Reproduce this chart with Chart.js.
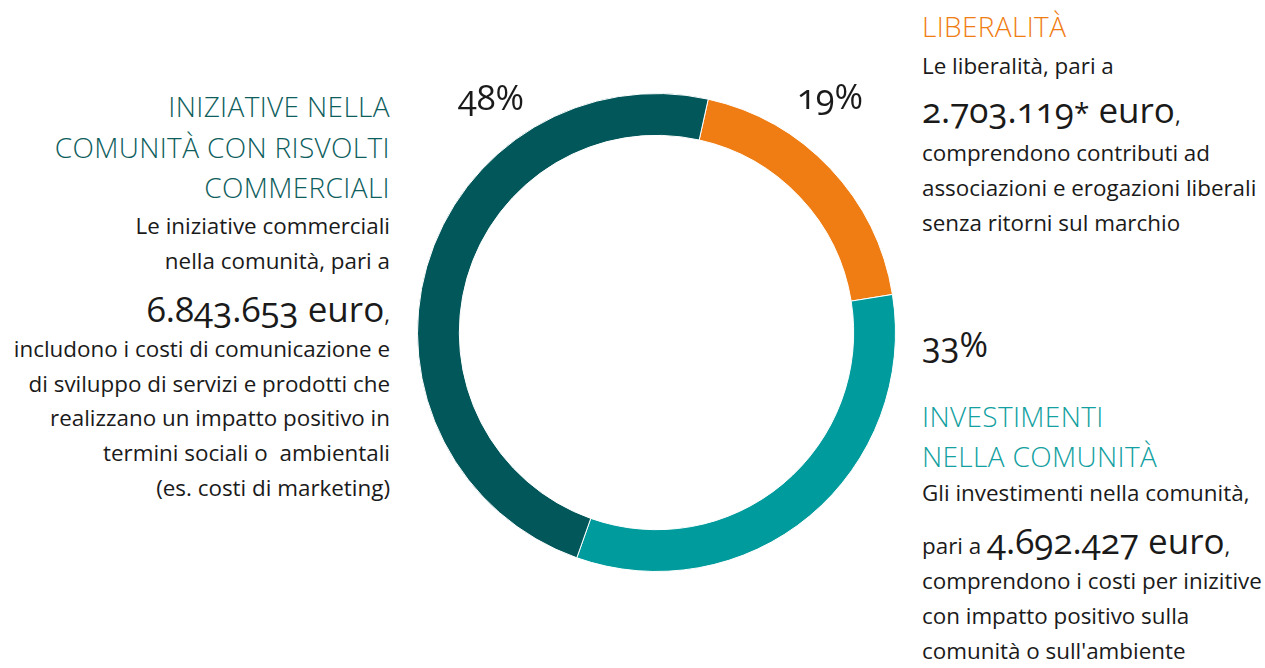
<!DOCTYPE html>
<html lang="it">
<head>
<meta charset="utf-8">
<title>Contributi alla comunità</title>
<script src="https://cdn.jsdelivr.net/npm/chart.js@4"></script>
<style>
  html, body { margin: 0; padding: 0; background: #fff; }
  #page {
    position: relative; width: 1265px; height: 668px; overflow: hidden;
    font-family: "Open Sans", "Noto Sans", sans-serif; color: #1a1a1a;
    font-feature-settings: "onum" 1;
  }
  #ring { position: absolute; left: 417px; top: 93px; width: 479px; height: 479px; }
  .ln { position: absolute; white-space: pre; line-height: 1; }
  .r { text-align: right; }
  .t { font-weight: 300; letter-spacing: 0.35px; }
</style>
</head>
<body>
<div id="page">
  <div id="ring"><canvas id="giving"></canvas></div>
</div>
<script>
// ── Ripartizione dei contributi alla comunità (euro) ──────────────
const categories = ['Liberalità', 'Investimenti nella comunità', 'Iniziative nella comunità con risvolti commerciali'];
const amounts = [2703119, 4692427, 6843653];
const colors = ['#EF7D13', '#009B9C', '#02575A'];

const total = amounts.reduce((a, b) => a + b, 0);
const pct = amounts.map(v => Math.round(v / total * 100) + '%');
const euro = v => v.toLocaleString('de-DE');

const TITLE = 28, BODY = 22.4, BIG = 35, PCT = 34.5;
const page = document.getElementById('page');

// una riga di testo, posizionata sulla linea di base (Open Sans: baseline ≈ 0.888em)
function line(html, x, base, size, opts = {}) {
  const d = document.createElement('div');
  d.className = 'ln' + (opts.right ? ' r' : '') + (opts.title ? ' t' : '');
  d.style.fontSize = size + 'px';
  d.style.top = (base - 0.888 * size) + 'px';
  if (opts.right) d.style.right = (1265 - x) + 'px'; else d.style.left = x + 'px';
  if (opts.color) d.style.color = opts.color;
  d.innerHTML = html;
  page.appendChild(d);
}
const small = t => `<span style="font-size:${BODY}px">${t}</span>`;

// blocco sinistro – iniziative commerciali
const L = { right: true, title: true, color: '#0E5E5D' };
line('INIZIATIVE NELLA', 390, 117, TITLE, L);
line('COMUNITÀ CON RISVOLTI', 390, 158, TITLE, L);
line('COMMERCIALI', 390, 198, TITLE, L);
line('Le iniziative commerciali', 390, 235, BODY, { right: true });
line('nella comunità, pari a', 390, 270, BODY, { right: true });
line(euro(amounts[2]) + ' euro' + small(','), 390, 322, BIG, { right: true });
['includono i costi di comunicazione e',
 'di sviluppo di servizi e prodotti che',
 'realizzano un impatto positivo in',
 'termini sociali o  ambientali',
 '(es. costi di marketing)'].forEach((t, i) => line(t, 390, 358 + i * 34.6, BODY, { right: true }));

// blocco destro in alto – liberalità
line('LIBERALITÀ', 922, 37, TITLE, { title: true, color: '#EF7D13' });
line('Le liberalità, pari a', 922, 75, BODY);
line(euro(amounts[0]) + '<span style="font-size:28px">*</span> euro' + small(','), 922, 123, BIG);
['comprendono contributi ad',
 'associazioni e erogazioni liberali',
 'senza ritorni sul marchio'].forEach((t, i) => line(t, 922, 162 + i * 35, BODY));

// blocco destro in basso – investimenti
line('INVESTIMENTI', 922, 427, TITLE, { title: true, color: '#12A0A0' });
line('NELLA COMUNITÀ', 922, 467, TITLE, { title: true, color: '#12A0A0' });
line('Gli investimenti nella comunità,', 922, 502, BODY);
line(small('pari a ') + euro(amounts[1]) + ' euro' + small(','), 922, 554, BIG);
['comprendono i costi per inizitive',
 'con impatto positivo sulla',
 'comunità o sull\'ambiente'].forEach((t, i) => line(t, 922, 590 + i * 34.8, BODY));

// percentuali
line(pct[2], 458, 111, PCT);
line(pct[0], 797, 110, PCT);
line(pct[1], 922, 358, PCT);

new Chart(document.getElementById('giving'), {
  type: 'doughnut',
  data: {
    labels: categories,
    datasets: [{
      data: amounts,
      backgroundColor: colors,
      borderColor: '#ffffff',
      borderWidth: 1,
      hoverOffset: 0
    }]
  },
  options: {
    responsive: true,
    maintainAspectRatio: false,
    animation: false,
    rotation: 12.5,
    cutout: '82.5%',
    layout: { padding: 0 },
    plugins: { legend: { display: false }, tooltip: { enabled: false } }
  }
});
</script>
</body>
</html>
